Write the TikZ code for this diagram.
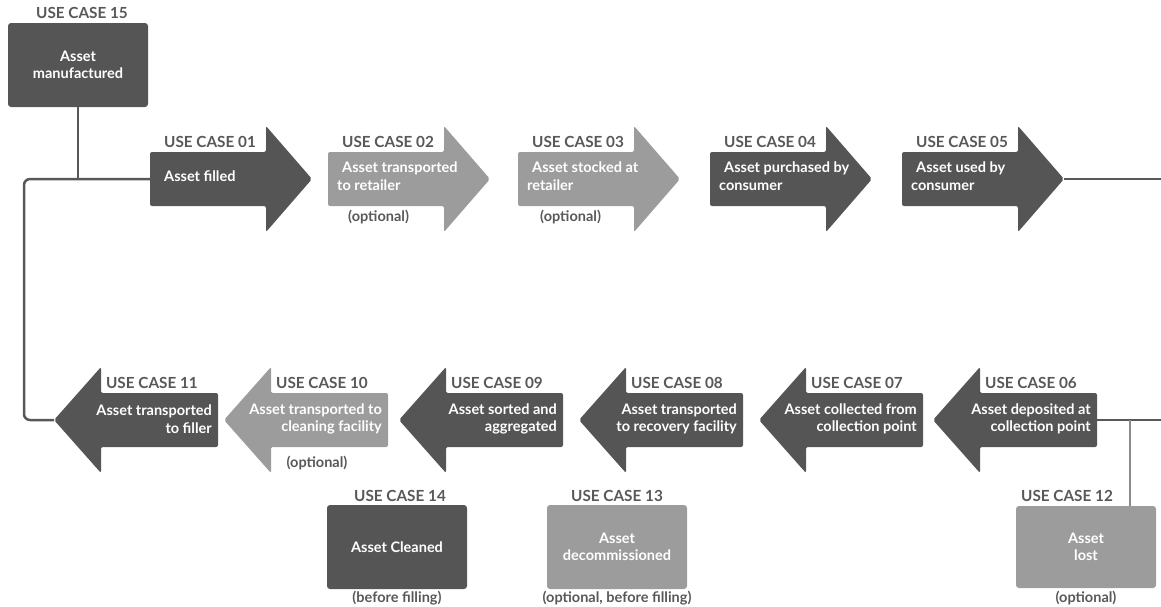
\documentclass[tikz,border=0pt]{standalone}
\usepackage{fontspec}
\setmainfont{Lato}
\usepackage{tikz}
\usetikzlibrary{positioning}

\definecolor{darkgrey}{HTML}{555555}
\definecolor{lightgrey}{HTML}{9C9C9C}
\definecolor{linegrey}{HTML}{585858}
\definecolor{midgrey}{HTML}{8A8A8A}

\newcommand{\casefont}{\bfseries\fontsize{14.5}{17.5}\selectfont}
\newcommand{\labelfont}{\bfseries\fontsize{15.3}{18}\selectfont}

\tikzset{
  flow/.style={draw=linegrey, line width=2.5pt},
  casebox/.style={rectangle, rounded corners=3pt, minimum width=140pt, minimum height=84pt, text=white, align=center, font=\casefont},
  caselabel/.style={text=linegrey, inner sep=0pt, font=\labelfont},
  casetext/.style={text=white, inner sep=0pt, font=\casefont},
  casenote/.style={text=linegrey, inner sep=0pt, font=\casefont},
}

% forward arrow: name, tail x, colour, number, text
\newcommand{\fwdcase}[5]{%
  \fill[#3, rounded corners=2pt] (#2,152) -- ++(116,0) -- ++(0,-26) -- ++(46,53) -- ++(-46,53) -- ++(0,-26) -- ++(-116,0) -- cycle;
  \coordinate (#1-tail) at (#2,179);
  \coordinate (#1-tip) at ({#2+162},179);
  \node[caselabel, anchor=west] (#1-lbl) at ({#2+14},142) {USE CASE #4};
  \node[casetext, anchor=west, align=left] (#1-txt) at ({#2+9},176) {#5};
}

% backward arrow: name, tail x, colour, number, text
\newcommand{\backcase}[5]{%
  \fill[#3, rounded corners=2pt] (#2,393) -- ++(-117,0) -- ++(0,-26) -- ++(-47,53) -- ++(47,53) -- ++(0,-26) -- ++(117,0) -- cycle;
  \coordinate (#1-tail) at (#2,420);
  \coordinate (#1-tip) at ({#2-164},420);
  \node[caselabel, anchor=east] (#1-lbl) at ({#2-20},383) {USE CASE #4};
  \node[casetext, anchor=east, align=right] (#1-txt) at ({#2-6},419) {#5};
}

\begin{document}
\begin{tikzpicture}[x=1pt, y=-1pt]
\useasboundingbox (0,0) rectangle (1161,606);

% start box
\node[casebox, fill=darkgrey] (b15) at (78,65) {Asset\\manufactured};
\node[caselabel] (b15-lbl) at (82,13) {USE CASE 15};

% top row, left to right
\fwdcase{a01}{150}{darkgrey}{01}{\hspace*{5pt}Asset filled}
\fwdcase{a02}{328}{lightgrey}{02}{\hspace*{5pt}Asset transported\\to retailer}
\fwdcase{a03}{518}{lightgrey}{03}{\hspace*{5pt}Asset stocked at\\retailer}
\fwdcase{a04}{710}{darkgrey}{04}{\hspace*{5pt}Asset purchased by\\consumer}
\fwdcase{a05}{902}{darkgrey}{05}{\hspace*{5pt}Asset used by\\consumer}
\node[casenote, anchor=west] (n02) at (348,217) {(optional)};
\node[casenote, anchor=west] (n03) at (540,217) {(optional)};

% bottom row, right to left
\backcase{a06}{1097}{darkgrey}{06}{Asset deposited at\\collection point}
\backcase{a07}{923}{darkgrey}{07}{Asset collected from\\collection point}
\backcase{a08}{743}{darkgrey}{08}{Asset transported\\to recovery facility}
\backcase{a09}{563}{darkgrey}{09}{Asset sorted and\\aggregated}
\backcase{a10}{388}{lightgrey}{10}{Asset transported to\\cleaning facility}
\backcase{a11}{218}{darkgrey}{11}{Asset transported\\to filler}
\node[casenote] (n10) at (317,463) {(optional)};

% side boxes
\node[casebox, fill=darkgrey] (b14) at (397,547) {Asset Cleaned};
\node[caselabel] (b14-lbl) at (400,496) {USE CASE 14};
\node[casenote, below=2pt of b14] (n14) {(before filling)};
\node[casebox, fill=lightgrey] (b13) at (617,547) {Asset\\decommissioned};
\node[caselabel] (b13-lbl) at (617,496) {USE CASE 13};
\node[casenote, below=2pt of b13] (n13) {(optional, before filling)};
\node[casebox, fill=lightgrey, minimum height=82pt] (b12) at (1086,547) {Asset\\lost};
\node[caselabel] (b12-lbl) at (1067,496) {USE CASE 12};
\node[casenote, below=3pt of b12] (n12) {(optional)};

% connectors
\coordinate (turn) at (24,300);
\coordinate (edge) at (1161,300);
\coordinate (drop) at (1130,420);
\draw[flow] (b15.south) -- (b15.south |- a01-tail);
\draw[flow, rounded corners=6pt] (a01-tail) -| (turn) |- (a11-tip);
\draw[flow] (a05-tip) -- (a05-tip -| edge);
\draw[flow] (a06-tail) -- (a06-tail -| edge);
\draw[flow, draw=midgrey] (drop) -- (drop |- b12.north);
\end{tikzpicture}
\end{document}
